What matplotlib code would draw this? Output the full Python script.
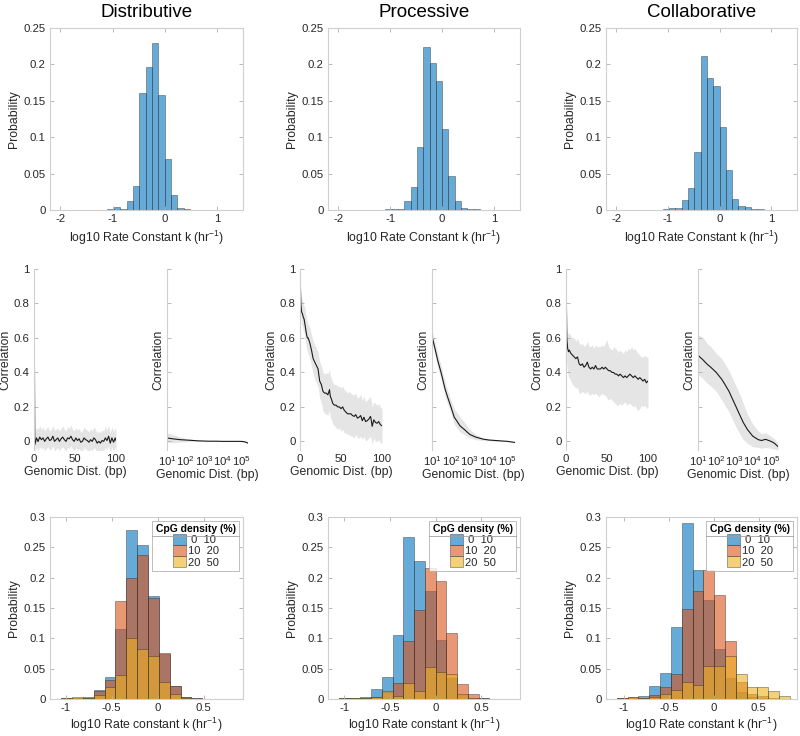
import numpy as np
import matplotlib
matplotlib.use("Agg")
import matplotlib.pyplot as plt
from matplotlib.patches import Patch
from matplotlib.lines import Line2D

plt.rcParams['font.family'] = ['Liberation Sans', 'DejaVu Sans']
plt.rcParams['mathtext.fontset'] = 'custom'
plt.rcParams['mathtext.rm'] = 'Liberation Sans'
plt.rcParams['mathtext.it'] = 'Liberation Sans:italic'
plt.rcParams['mathtext.bf'] = 'Liberation Sans:bold'

# ---------------- DATA ----------------
titles = ["Distributive", "Processive", "Collaborative"]

# Top row histograms: log10 rate constant distribution
top_edges = [-1.098, -0.976, -0.854, -0.732, -0.61, -0.488, -0.366, -0.244,
             -0.122, 0.0, 0.122, 0.244, 0.366, 0.488, 0.61, 0.732, 0.854]
top_dist = [0.001, 0.0035, 0.001, 0.013, 0.033, 0.161, 0.196, 0.229, 0.158, 0.070,
            0.020, 0.003, 0.001, 0.0, 0.0, 0.0]
top_proc = [0.001, 0.002, 0.002, 0.012, 0.031, 0.087, 0.224, 0.202, 0.177, 0.111,
            0.047, 0.013, 0.003, 0.002, 0.001, 0.0]
top_coll = [0.001, 0.003, 0.003, 0.014, 0.030, 0.079, 0.211, 0.181, 0.171, 0.114,
            0.055, 0.015, 0.006, 0.004, 0.002, 0.001]

# Middle row: correlation vs genomic distance (linear)
dist_lin_x = [0, 1, 3, 5, 7, 9, 11, 13, 15, 17, 19, 21, 23, 25, 27, 29, 31, 33, 35, 37,
              39, 41, 43, 45, 47, 49, 51, 53, 55, 57, 59, 61, 63, 65, 67, 69, 71, 73, 75,
              77, 79, 81, 83, 85, 87, 89, 91, 93, 95, 97, 99, 100]
dist_lin_y = [1.0, -0.02, 0.02, 0.0, 0.025, 0.01, 0.02, 0.0, 0.015, 0.025, 0.005, 0.01,
              0.03, 0.0, 0.01, 0.02, 0.0, 0.015, 0.025, 0.01, 0.0, 0.02, 0.015, 0.03, 0.01,
              0.0, 0.02, 0.005, 0.015, -0.005, 0.0, 0.02, 0.01, 0.005, -0.005, 0.01, 0.0,
              0.02, 0.01, -0.01, 0.0, -0.01, 0.005, 0.0, 0.02, 0.005, 0.03, -0.01, 0.02,
              -0.005, 0.02, 0.005]
dist_lin_hi = [1.0, 0.05, 0.08, 0.07, 0.09, 0.07, 0.08, 0.06, 0.075, 0.085, 0.06, 0.07,
               0.09, 0.065, 0.07, 0.08, 0.06, 0.075, 0.09, 0.07, 0.06, 0.085, 0.075, 0.095,
               0.07, 0.06, 0.08, 0.065, 0.075, 0.055, 0.06, 0.085, 0.07, 0.065, 0.055, 0.075,
               0.06, 0.085, 0.07, 0.05, 0.06, 0.05, 0.065, 0.06, 0.09, 0.065, 0.095, 0.05,
               0.085, 0.055, 0.08, 0.06]
dist_lin_lo = [1.0, -0.06, -0.035, -0.05, -0.03, -0.045, -0.035, -0.055, -0.04, -0.03,
               -0.05, -0.045, -0.025, -0.055, -0.045, -0.035, -0.055, -0.04, -0.03, -0.045,
               -0.055, -0.035, -0.04, -0.025, -0.045, -0.055, -0.035, -0.05, -0.04, -0.06,
               -0.055, -0.035, -0.045, -0.05, -0.06, -0.045, -0.055, -0.035, -0.045, -0.065,
               -0.055, -0.065, -0.05, -0.055, -0.035, -0.05, -0.025, -0.065, -0.035, -0.06,
               -0.035, -0.05]

proc_lin_x = [0, 1, 2, 3, 4, 5, 6, 7, 8, 9, 10, 12, 14, 16, 18, 20, 22, 24, 25, 26, 28, 30,
              32, 34, 36, 37, 38, 40, 42, 44, 46, 48, 50, 52, 54, 56, 58, 60, 62, 64, 66,
              68, 70, 72, 74, 76, 78, 80, 82, 84, 86, 87, 88, 90, 92, 94, 96, 98, 100]
proc_lin_y = [1.0, 0.80, 0.75, 0.74, 0.72, 0.71, 0.68, 0.65, 0.62, 0.60, 0.60, 0.57, 0.53,
              0.48, 0.46, 0.44, 0.42, 0.35, 0.34, 0.33, 0.29, 0.28, 0.28, 0.27, 0.30, 0.26,
              0.25, 0.22, 0.21, 0.21, 0.20, 0.20, 0.19, 0.20, 0.18, 0.17, 0.16, 0.16, 0.16,
              0.15, 0.145, 0.155, 0.135, 0.14, 0.15, 0.12, 0.14, 0.115, 0.12, 0.13, 0.145,
              0.12, 0.087, 0.125, 0.11, 0.105, 0.115, 0.097, 0.09]
proc_lin_lo = [1.0, 0.74, 0.68, 0.67, 0.64, 0.63, 0.60, 0.57, 0.54, 0.52, 0.51, 0.48, 0.44,
               0.39, 0.36, 0.34, 0.32, 0.25, 0.24, 0.22, 0.18, 0.16, 0.16, 0.15, 0.18, 0.14,
               0.13, 0.10, 0.09, 0.08, 0.07, 0.08, 0.06, 0.07, 0.05, 0.05, 0.04, 0.04, 0.03,
               0.03, 0.02, 0.04, 0.02, 0.02, 0.03, 0.01, 0.03, 0.0, 0.01, 0.02, 0.03, 0.01,
               -0.02, 0.02, 0.0, 0.0, 0.01, -0.01, -0.01]
proc_lin_hi = [1.0, 0.88, 0.83, 0.82, 0.80, 0.79, 0.77, 0.74, 0.71, 0.69, 0.68, 0.66, 0.62,
               0.58, 0.56, 0.54, 0.52, 0.46, 0.45, 0.44, 0.40, 0.39, 0.40, 0.39, 0.42, 0.38,
               0.37, 0.34, 0.33, 0.33, 0.32, 0.32, 0.31, 0.32, 0.30, 0.29, 0.28, 0.29, 0.28,
               0.27, 0.27, 0.28, 0.25, 0.26, 0.27, 0.24, 0.26, 0.23, 0.24, 0.25, 0.26, 0.24,
               0.20, 0.23, 0.22, 0.21, 0.22, 0.20, 0.19]

coll_lin_x = [0, 1, 2, 3, 4, 6, 8, 10, 12, 14, 16, 18, 20, 22, 24, 26, 28, 30, 32, 34, 36,
              38, 40, 42, 44, 46, 48, 50, 52, 54, 56, 58, 60, 62, 64, 66, 68, 70, 72, 74,
              76, 78, 80, 82, 84, 86, 88, 90, 92, 94, 96, 98, 100]
coll_lin_y = [1.0, 0.60, 0.54, 0.52, 0.53, 0.51, 0.50, 0.49, 0.48, 0.49, 0.45, 0.44, 0.45,
              0.43, 0.44, 0.46, 0.43, 0.42, 0.43, 0.42, 0.44, 0.42, 0.42, 0.42, 0.43, 0.42,
              0.43, 0.42, 0.41, 0.41, 0.40, 0.40, 0.39, 0.39, 0.38, 0.39, 0.38, 0.37, 0.38,
              0.37, 0.38, 0.39, 0.38, 0.37, 0.38, 0.37, 0.36, 0.37, 0.36, 0.35, 0.36, 0.34,
              0.35]
coll_lin_lo = [1.0, 0.45, 0.40, 0.37, 0.37, 0.35, 0.33, 0.32, 0.31, 0.31, 0.28, 0.28, 0.29,
               0.28, 0.28, 0.29, 0.27, 0.27, 0.28, 0.27, 0.28, 0.27, 0.26, 0.27, 0.28, 0.27,
               0.27, 0.25, 0.24, 0.25, 0.24, 0.23, 0.22, 0.21, 0.21, 0.22, 0.21, 0.22, 0.23,
               0.21, 0.22, 0.22, 0.21, 0.20, 0.21, 0.19, 0.18, 0.19, 0.21, 0.20, 0.21, 0.19,
               0.20]
coll_lin_hi = [1.0, 0.65, 0.63, 0.62, 0.63, 0.61, 0.60, 0.60, 0.58, 0.60, 0.57, 0.56, 0.57,
               0.55, 0.56, 0.58, 0.55, 0.55, 0.56, 0.54, 0.56, 0.55, 0.55, 0.55, 0.56, 0.55,
               0.57, 0.59, 0.55, 0.54, 0.53, 0.55, 0.54, 0.53, 0.52, 0.53, 0.52, 0.51, 0.53,
               0.52, 0.54, 0.53, 0.55, 0.53, 0.54, 0.52, 0.51, 0.50, 0.49, 0.49, 0.50, 0.49,
               0.49]

# Middle row: correlation vs genomic distance (log)
dist_log_x = [10, 20, 50, 100, 200, 500, 1e3, 2e3, 5e3, 1e4, 2e4, 5e4, 1e5, 1.5e5, 2e5, 2.4e5]
dist_log_y = [0.02, 0.015, 0.01, 0.008, 0.006, 0.003, 0.002, 0.001, 0.001, 0.0, 0.0, 0.0,
              0.0, -0.002, -0.006, -0.01]
dist_log_hi = [0.05, 0.04, 0.025, 0.018, 0.012, 0.007, 0.005, 0.003, 0.002, 0.001, 0.001,
               0.001, 0.001, -0.001, -0.004, -0.008]
dist_log_lo = [-0.005, -0.008, -0.004, -0.002, 0.0, 0.0, -0.001, -0.001, 0.0, -0.001,
               -0.001, -0.001, -0.001, -0.003, -0.008, -0.012]

proc_log_x = [10, 15, 20, 30, 50, 70, 100, 150, 200, 300, 500, 700, 1000, 2000, 5000, 1e4,
              3e4, 1e5, 1.5e5, 2.4e5]
proc_log_y = [0.61, 0.53, 0.47, 0.40, 0.30, 0.25, 0.20, 0.14, 0.12, 0.09, 0.07, 0.055, 0.04,
              0.025, 0.013, 0.008, 0.004, 0.0, -0.003, -0.006]
proc_log_hi = [0.65, 0.57, 0.51, 0.44, 0.34, 0.29, 0.24, 0.19, 0.17, 0.14, 0.115, 0.09,
               0.07, 0.04, 0.02, 0.013, 0.007, 0.002, -0.001, -0.004]
proc_log_lo = [0.57, 0.49, 0.43, 0.36, 0.26, 0.21, 0.165, 0.10, 0.08, 0.055, 0.04, 0.03,
               0.02, 0.01, 0.005, 0.003, 0.001, -0.002, -0.005, -0.008]

coll_log_x = [10, 20, 30, 50, 100, 200, 300, 500, 1000, 2000, 3000, 5000, 1e4, 2e4, 3e4,
              5e4, 1e5, 1.5e5, 2.4e5]
coll_log_y = [0.50, 0.47, 0.45, 0.43, 0.40, 0.36, 0.33, 0.29, 0.22, 0.15, 0.11, 0.07, 0.03,
              0.01, 0.005, 0.012, 0.0, -0.01, -0.03]
coll_log_lo = [0.39, 0.36, 0.34, 0.32, 0.29, 0.24, 0.21, 0.17, 0.10, 0.04, 0.01, -0.01,
               -0.03, -0.035, -0.04, -0.035, -0.04, -0.045, -0.05]
coll_log_hi = [0.62, 0.60, 0.57, 0.55, 0.51, 0.48, 0.45, 0.41, 0.34, 0.27, 0.22, 0.16, 0.10,
               0.06, 0.045, 0.05, 0.03, 0.015, -0.01]

# Bottom row: rate constant histograms split by CpG density
cpg_labels = [" 0  10", "10  20", "20  50"]

dist_edges = [-1.05, -0.932, -0.814, -0.696, -0.578, -0.46, -0.342, -0.224, -0.106, 0.012,
              0.13, 0.248, 0.366, 0.484]
dist_cpg_low = [0.002, 0.002, 0.003, 0.015, 0.036, 0.115, 0.279, 0.254, 0.170, 0.075, 0.021,
                0.003, 0.001]
dist_cpg_mid = [0.002, 0.002, 0.001, 0.013, 0.032, 0.162, 0.200, 0.238, 0.166, 0.076, 0.022,
                0.003, 0.001]
dist_cpg_high = [0.002, 0.003, 0.001, 0.006, 0.020, 0.040, 0.100, 0.082, 0.071, 0.028, 0.009,
                 0.001, 0.0]

proc_edges = [-1.06, -0.942, -0.824, -0.706, -0.588, -0.47, -0.352, -0.234, -0.116, 0.002,
              0.12, 0.238, 0.356, 0.474, 0.592, 0.71]
proc_cpg_low = [0.001, 0.002, 0.003, 0.016, 0.036, 0.106, 0.267, 0.227, 0.178, 0.097, 0.034,
                0.006, 0.002, 0.001, 0.0]
proc_cpg_mid = [0.002, 0.002, 0.001, 0.003, 0.012, 0.026, 0.095, 0.147, 0.216, 0.194, 0.109,
                0.025, 0.008, 0.001, 0.0]
proc_cpg_high = [0.002, 0.002, 0.001, 0.004, 0.014, 0.005, 0.026, 0.014, 0.053, 0.044, 0.041,
                 0.008, 0.002, 0.0, 0.0]

coll_edges = [-1.079, -0.958, -0.838, -0.717, -0.597, -0.477, -0.356, -0.236, -0.115, 0.005,
              0.126, 0.246, 0.367, 0.487, 0.608, 0.728, 0.849]
coll_cpg_low = [0.001, 0.002, 0.0055, 0.021, 0.043, 0.118, 0.29, 0.213, 0.164, 0.083, 0.035,
                0.012, 0.004, 0.001, 0.0, 0.0]
coll_cpg_mid = [0.001, 0.003, 0.002, 0.007, 0.019, 0.041, 0.149, 0.178, 0.213, 0.172, 0.095,
                0.0275, 0.009, 0.0055, 0.002, 0.0]
coll_cpg_high = [0.002, 0.004, 0.002, 0.004, 0.009, 0.015, 0.0275, 0.023, 0.055, 0.055,
                 0.0715, 0.041, 0.0204, 0.0204, 0.0138, 0.0044]

# ---------------- STYLE ----------------
W, H = 800, 736
BLUE = (0.0, 0.447, 0.741)
ORANGE = (0.85, 0.325, 0.098)
YELLOW = (0.929, 0.694, 0.125)
FA = 0.6
EDGE = (0.15, 0.15, 0.15, 0.55)
TXT = '#262626'
SPINE = '#cfcfcf'
SHADE = '#e5e5e5'
FS = 8.2      # tick labels
LS = 8.8      # axis labels

fig = plt.figure(figsize=(W / 100, H / 100), dpi=100)


def px_axes(l, r, t, b):
    return fig.add_axes([l / W, 1 - b / H, (r - l) / W, (b - t) / H])


def style_box(ax):
    for s in ax.spines.values():
        s.set_color(SPINE)
        s.set_linewidth(0.8)
    ax.tick_params(direction='in', length=3, width=0.6, color='#b0b0b0', pad=3,
                   labelsize=FS, labelcolor=TXT, top=True, right=True)


def hist_bars(ax, edges, vals, color):
    e = np.asarray(edges)
    ax.bar(e[:-1], vals, width=np.diff(e), align='edge',
           facecolor=color + (FA,), edgecolor=EDGE, linewidth=0.5)


# ---- Top row ----
top_pos = [(50, 243), (328, 520), (606, 797)]
top_vals = [top_dist, top_proc, top_coll]
for (l, r), vals, title in zip(top_pos, top_vals, titles):
    ax = px_axes(l, r, 28, 210)
    hist_bars(ax, top_edges, vals, BLUE)
    ax.set_xlim(-2.2, 1.5)
    ax.set_ylim(0, 0.25)
    ax.set_xticks([-2, -1, 0, 1])
    ax.set_xticklabels(['-2', '-1', '0', '1'])
    ax.set_yticks([0, 0.05, 0.1, 0.15, 0.2, 0.25])
    ax.set_yticklabels(['0', '0.05', '0.1', '0.15', '0.2', '0.25'])
    style_box(ax)
    ax.set_ylabel('Probability', fontsize=LS, color=TXT, labelpad=3)
    ax.set_xlabel('log10 Rate Constant k (hr$^{-1}$)', fontsize=LS, color=TXT,
                  labelpad=3)
    ax.set_title(title, fontsize=13.5, color='black', pad=8)

# ---- Middle row ----
lin_pos = [(34, 116), (300, 382), (566, 648)]
log_pos = [(167, 248), (432, 515), (698, 778)]
lin_data = [(dist_lin_x, dist_lin_y, dist_lin_lo, dist_lin_hi),
            (proc_lin_x, proc_lin_y, proc_lin_lo, proc_lin_hi),
            (coll_lin_x, coll_lin_y, coll_lin_lo, coll_lin_hi)]
log_data = [(dist_log_x, dist_log_y, dist_log_lo, dist_log_hi),
            (proc_log_x, proc_log_y, proc_log_lo, proc_log_hi),
            (coll_log_x, coll_log_y, coll_log_lo, coll_log_hi)]


def style_mid(ax):
    for k in ['top', 'right', 'bottom']:
        ax.spines[k].set_visible(False)
    ax.spines['left'].set_color(SPINE)
    ax.spines['left'].set_linewidth(0.8)
    ax.tick_params(axis='y', direction='in', length=3, width=0.6, color='#b0b0b0',
                   labelsize=FS, labelcolor=TXT, pad=3)
    ax.tick_params(axis='x', length=0, labelsize=FS, labelcolor=TXT, pad=3)
    ax.tick_params(axis='x', which='minor', length=0)
    ax.set_ylim(-0.05, 1)
    ax.set_yticks([0, 0.2, 0.4, 0.6, 0.8, 1])


for (l, r), (x, y, lo, hi) in zip(lin_pos, lin_data):
    ax = px_axes(l, r, 269, 450)
    ax.fill_between(x, lo, hi, color=SHADE, linewidth=0)
    ax.plot(x, y, color='#1a1a1a', linewidth=0.8)
    ax.set_xlim(0, 100)
    style_mid(ax)
    ax.set_yticklabels(['0', '0.2', '0.4', '0.6', '0.8', '1'])
    ax.set_xticks([0, 50, 100])
    ax.set_ylabel('Correlation', fontsize=LS, color=TXT, labelpad=2)
    ax.set_xlabel('Genomic Dist. (bp)', fontsize=LS, color=TXT, labelpad=1)

for (l, r), (x, y, lo, hi) in zip(log_pos, log_data):
    ax = px_axes(l, r, 269, 450)
    ax.fill_between(x, lo, hi, color=SHADE, linewidth=0)
    ax.plot(x, y, color='#1a1a1a', linewidth=0.8)
    ax.set_xscale('log')
    ax.set_xlim(10, 2.4e5)
    style_mid(ax)
    ax.set_yticklabels([])
    ax.set_xticks([1e1, 1e2, 1e3, 1e4, 1e5])
    ax.set_xticklabels(['$10^{1}$', '$10^{2}$', '$10^{3}$', '$10^{4}$', '$10^{5}$'])
    ax.set_ylabel('Correlation', fontsize=LS, color=TXT)
    ax.yaxis.set_label_coords(-0.035, 0.5)
    ax.set_xlabel('Genomic Dist. (bp)', fontsize=LS, color=TXT, labelpad=1)

# ---- Bottom row ----
bot_pos = [(50, 243), (328, 520), (606, 797)]
bot_xlims = [(-1.17, 0.926), (-1.18, 0.927), (-1.2, 0.928)]
bot_data = [(dist_edges, dist_cpg_low, dist_cpg_mid, dist_cpg_high),
            (proc_edges, proc_cpg_low, proc_cpg_mid, proc_cpg_high),
            (coll_edges, coll_cpg_low, coll_cpg_mid, coll_cpg_high)]
legends = []
for (l, r), xl, (edges, lowv, midv, highv) in zip(bot_pos, bot_xlims, bot_data):
    ax = px_axes(l, r, 517, 699)
    hist_bars(ax, edges, lowv, BLUE)
    hist_bars(ax, edges, midv, ORANGE)
    hist_bars(ax, edges, highv, YELLOW)
    ax.set_xlim(*xl)
    ax.set_ylim(0, 0.3)
    ax.set_xticks([-1, -0.5, 0, 0.5])
    ax.set_xticklabels(['-1', '-0.5', '0', '0.5'])
    ax.set_yticks([0, 0.05, 0.1, 0.15, 0.2, 0.25, 0.3])
    ax.set_yticklabels(['0', '0.05', '0.1', '0.15', '0.2', '0.25', '0.3'])
    style_box(ax)
    ax.set_ylabel('Probability', fontsize=LS, color=TXT, labelpad=3)
    ax.set_xlabel('log10 Rate constant k (hr$^{-1}$)', fontsize=LS, color=TXT,
                  labelpad=2)
    handles = [Patch(facecolor=c + (FA,), edgecolor=EDGE, linewidth=0.5)
               for c in (BLUE, ORANGE, YELLOW)]
    leg = ax.legend(handles, cpg_labels, title='CpG density (%)', loc='upper right',
                    fontsize=8, title_fontproperties={'weight': 'bold', 'size': 7.5},
                    frameon=True, fancybox=False, borderaxespad=0.35, borderpad=0.3,
                    handlelength=1.2, handleheight=1.1, handletextpad=0.15,
                    labelspacing=0.0)
    leg.get_frame().set_edgecolor('#a0a0a0')
    leg.get_frame().set_linewidth(0.6)
    for t in leg.get_texts():
        t.set_color(TXT)
    legends.append(leg)

# separator line under each legend title
fig.canvas.draw()
renderer = fig.canvas.get_renderer()
for leg in legends:
    fb = leg.get_frame().get_window_extent(renderer)
    tb = leg.get_title().get_window_extent(renderer)
    yline = tb.y0 - 1.5
    inv = fig.transFigure.inverted()
    (x0f, yf), (x1f, _) = inv.transform([(fb.x0, yline), (fb.x1, yline)])
    fig.add_artist(Line2D([x0f, x1f], [yf, yf], transform=fig.transFigure,
                          color='#a0a0a0', linewidth=0.6))

fig.savefig('out.png', dpi=100)
